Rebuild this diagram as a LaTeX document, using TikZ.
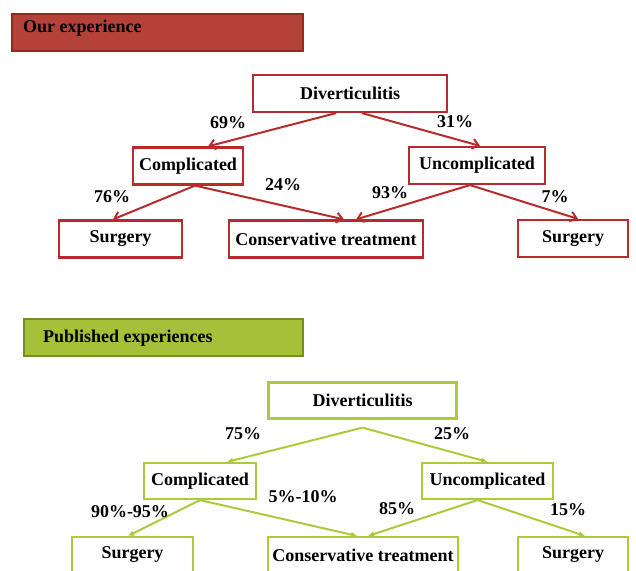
\documentclass[tikz,border=0pt]{standalone}
\usepackage{fontspec}
\setmainfont{Liberation Serif}
\usetikzlibrary{arrows.meta}

\definecolor{ourred}{RGB}{184,42,46}
\definecolor{bannerred}{RGB}{181,66,56}
\definecolor{bannerredline}{RGB}{150,40,36}
\definecolor{pubgreen}{RGB}{172,202,60}
\definecolor{bannergreen}{RGB}{166,192,58}
\definecolor{bannergreenline}{RGB}{120,140,40}

\begin{document}
\begin{tikzpicture}[x=1pt,y=-1pt,font=\fontsize{18}{20}\selectfont\bfseries]
      \useasboundingbox (0,0) rectangle (636,570);

      % banners
      \node (ourbar) [draw=bannerredline,fill=bannerred,line width=1.5pt,minimum width=291,minimum height=37,inner sep=0,anchor=north west] at (11,13) {};
      \node (ourtitle) [anchor=base west,inner sep=0] at (23,32) {Our experience};
      \node (pubbar) [draw=bannergreenline,fill=bannergreen,line width=1.5pt,minimum width=279,minimum height=37,inner sep=0,anchor=north west] at (23,318) {};
      \node (pubtitle) [anchor=base west,inner sep=0] at (43,342) {Published experiences};

      % our experience
      \begin{scope}[every node/.style={draw=ourred,line width=2.2pt,inner sep=0,minimum height=37}]
        \node (div1)   [minimum width=194] at (350,93.5)  {Diverticulitis};
        \node (comp1)  [minimum width=110] at (188,166)   {Complicated};
        \node (unc1)   [minimum width=136] at (477,165.5) {Uncomplicated};
        \node (surg1a) [minimum width=123] at (120.5,239) {Surgery};
        \node (cons1)  [minimum width=194] at (326,239)   {Conservative treatment};
        \node (surg1b) [minimum width=110] at (573,238.5) {Surgery};
      \end{scope}

      \begin{scope}[every edge/.style={draw=ourred,line width=2pt,-{Straight Barb[length=6pt,width=10pt]}}]
        \path ([xshift=-14pt]div1.south) edge ([xshift=20pt]comp1.north);
        \path ([xshift=12pt]div1.south)  edge ([xshift=3pt]unc1.north);
        \path ([xshift=7pt]comp1.south)  edge ([xshift=-7.5pt]surg1a.north);
        \path ([xshift=7pt]comp1.south)  edge ([xshift=18pt]cons1.north);
        \path ([xshift=-7pt]unc1.south)  edge ([xshift=30pt]cons1.north);
        \path ([xshift=-7pt]unc1.south)  edge ([xshift=5pt]surg1b.north);
      \end{scope}

      \node (p69) at (228,123) {69\%};
      \node (p31) at (455,122) {31\%};
      \node (p76) at (112,197) {76\%};
      \node (p24) at (283,185) {24\%};
      \node (p93) at (390,193) {93\%};
      \node (p7)  at (555,197) {7\%};

      % published experiences
      \begin{scope}[every node/.style={draw=pubgreen,line width=2.2pt,inner sep=0,minimum height=36}]
        \node (div2)   [minimum width=188] at (362.5,400.5) {Diverticulitis};
        \node (comp2)  [minimum width=112] at (200,481)     {Complicated};
        \node (unc2)   [minimum width=131] at (487.5,481)   {Uncomplicated};
        \node (surg2a) [minimum width=121] at (132.5,555)   {Surgery};
        \node (cons2)  [minimum width=190] at (363,555)     {Conservative treatment};
        \node (surg2b) [minimum width=110] at (573,555)     {Surgery};
      \end{scope}

      \begin{scope}[every edge/.style={draw=pubgreen,line width=2pt,-{Latex[length=6pt,width=6pt]}}]
        \path ([yshift=-8pt]div2.south) edge ([xshift=27pt]comp2.north);
        \path ([yshift=-8pt]div2.south) edge (unc2.north);
        \path (comp2.south)             edge ([xshift=-4.5pt]surg2a.north);
        \path (comp2.south)             edge ([xshift=-6pt]cons2.north);
        \path ([xshift=-10pt]unc2.south) edge ([xshift=5pt]cons2.north);
        \path ([xshift=-10pt]unc2.south) edge ([xshift=12pt]surg2b.north);
      \end{scope}

      \node (p75)   at (243,434) {75\%};
      \node (p25)   at (452,434) {25\%};
      \node (p9095) at (130,512) {90\%-95\%};
      \node (p510)  at (303,497) {5\%-10\%};
      \node (p85)   at (397,509) {85\%};
      \node (p15)   at (568,510) {15\%};

    \end{tikzpicture}
\end{document}
